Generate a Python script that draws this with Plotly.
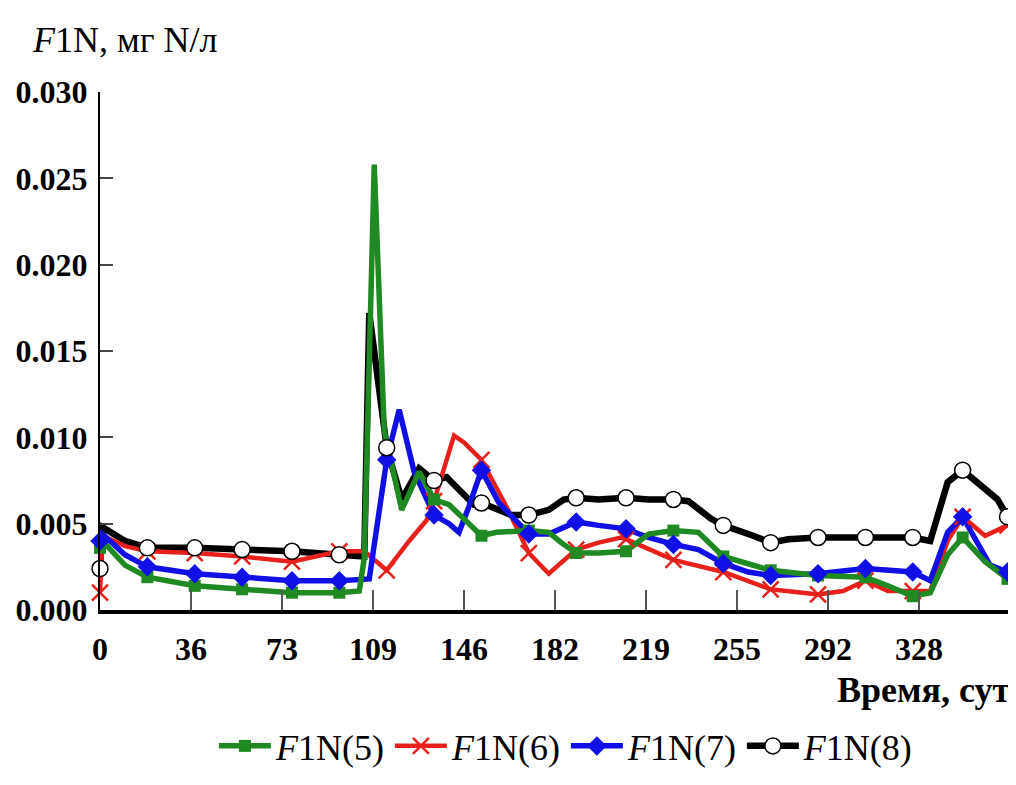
import plotly.graph_objects as go

# ---------------- data ----------------
MARKER_DAYS = [0, 19, 38, 57, 77, 96, 115, 134, 153, 172, 191, 211, 230, 250, 269, 288, 307, 326, 346, 364]

X_TICKVALS = [0, 36.5, 73, 109.5, 146, 182.5, 219, 255.5, 292, 328.5]
X_TICKTEXT = ["0", "36", "73", "109", "146", "182", "219", "255", "292", "328"]
Y_TICKVALS = [0.0, 0.005, 0.010, 0.015, 0.020, 0.025, 0.030]

days5 = [0, 1, 10, 19, 38, 57, 77, 96, 104, 106, 110, 114, 121, 128, 134, 140, 149, 153, 159, 172, 180,
         185, 191, 200, 211, 220, 230, 240, 250, 269, 288, 307, 316, 326, 333, 340, 346, 355, 364]
f1n5 = [0.0036, 0.0040, 0.0026, 0.0019, 0.0014, 0.0012, 0.0010, 0.0010, 0.0011, 0.0030, 0.0258, 0.0104,
        0.0058, 0.0080, 0.0064, 0.0061, 0.0048, 0.0043, 0.0045, 0.0046, 0.0045,
        0.0039, 0.0033, 0.0033, 0.0034, 0.0044, 0.0046, 0.0045, 0.0031, 0.0023, 0.0020, 0.0019, 0.0014,
        0.0008, 0.0010, 0.0032, 0.0042, 0.0028, 0.0018]

days6 = [0, 1, 10, 19, 38, 57, 77, 96, 106, 115, 124, 131, 134, 142, 146, 153, 163, 172, 180, 191, 200,
         209, 211, 230, 250, 269, 288, 298, 307, 316, 326, 333, 340, 346, 355, 364]
f1n6 = [0.0010, 0.0043, 0.0037, 0.0034, 0.0033, 0.0031, 0.0028, 0.0034, 0.0034, 0.0023, 0.0040, 0.0052,
        0.0063, 0.0101, 0.0097, 0.0087, 0.0060, 0.0033, 0.0021, 0.0035, 0.0039,
        0.0042, 0.0041, 0.0029, 0.0022, 0.0012, 0.0009, 0.0011, 0.0017, 0.0011, 0.0011, 0.0011, 0.0040,
        0.0054, 0.0043, 0.0049]

days7 = [0, 1, 10, 19, 38, 57, 77, 96, 106, 108, 115, 120, 126, 134, 140, 144, 148, 153, 160, 172, 180,
         191, 200, 211, 220, 230, 240, 250, 260, 269, 288, 307, 326, 333, 340, 346, 357, 364]
f1n7 = [0.0040, 0.0044, 0.0032, 0.0025, 0.0021, 0.0019, 0.0017, 0.0017, 0.0018, 0.0018, 0.0087, 0.0116,
        0.0080, 0.0055, 0.0050, 0.0045, 0.0060, 0.0081, 0.0062, 0.0044, 0.0044,
        0.0051, 0.0049, 0.0047, 0.0042, 0.0038, 0.0035, 0.0027, 0.0022, 0.0020, 0.0021, 0.0024, 0.0022,
        0.0017, 0.0045, 0.0054, 0.0026, 0.0022]

days8 = [0, 1, 10, 19, 38, 57, 77, 96, 104, 106, 108, 115, 121, 128, 134, 139, 150, 153, 165, 172, 180,
         186, 191, 200, 211, 220, 230, 236, 245, 250, 262, 269, 276, 288, 307, 326, 333, 340, 346, 352,
         360, 364]
f1n8 = [0.0024, 0.0048, 0.0040, 0.0036, 0.0036, 0.0035, 0.0034, 0.0032, 0.0031, 0.0031, 0.0172, 0.0094,
        0.0064, 0.0082, 0.0075, 0.0077, 0.0061, 0.0062, 0.0055, 0.0055, 0.0058,
        0.0064, 0.0065, 0.0064, 0.0065, 0.0064, 0.0064, 0.0063, 0.0053, 0.0049, 0.0043, 0.0039, 0.0041,
        0.0042, 0.0042, 0.0042, 0.0040, 0.0074, 0.0081, 0.0074, 0.0064, 0.0054]

SERIES = [
    ("<i>F</i>1N(8)", days8, f1n8),
    ("<i>F</i>1N(6)", days6, f1n6),
    ("<i>F</i>1N(7)", days7, f1n7),
    ("<i>F</i>1N(5)", days5, f1n5),
]

STYLE = {
    "<i>F</i>1N(5)": dict(color="#1f8a22", symbol="square", size=12, fill="#1f8a22", mline=0, width=5.5),
    "<i>F</i>1N(6)": dict(color="#e8201c", symbol="x-thin", size=16, fill="#e8201c", mline=2.5, width=4.5),
    "<i>F</i>1N(7)": dict(color="#1010e6", symbol="diamond", size=15, fill="#1010e6", mline=0, width=5.5),
    "<i>F</i>1N(8)": dict(color="#000000", symbol="circle", size=16, fill="#ffffff", mline=1.5, width=6.5),
}

LEGEND_ORDER = ["<i>F</i>1N(5)", "<i>F</i>1N(6)", "<i>F</i>1N(7)", "<i>F</i>1N(8)"]

FONT = "Liberation Serif"

fig = go.Figure()

# lines
for name, d, v in SERIES:
    st = STYLE[name]
    fig.add_trace(go.Scatter(x=d, y=v, mode="lines", line=dict(color=st["color"], width=st["width"]),
                             showlegend=False, hoverinfo="skip"))

# markers (drawn on top), black circles last
for name in ["<i>F</i>1N(6)", "<i>F</i>1N(5)", "<i>F</i>1N(7)", "<i>F</i>1N(8)"]:
    d, v = next((dd, vv) for n, dd, vv in SERIES if n == name)
    st = STYLE[name]
    md = [x for x in d if x in MARKER_DAYS]
    mv = [y for x, y in zip(d, v) if x in MARKER_DAYS]
    lc = st["color"] if name != "<i>F</i>1N(8)" else "#000000"
    fig.add_trace(go.Scatter(x=md, y=mv, mode="markers", cliponaxis=False,
                             marker=dict(symbol=st["symbol"], size=st["size"], color=st["fill"],
                                         line=dict(color=lc, width=st["mline"])),
                             showlegend=False))

# legend entries
for name in LEGEND_ORDER:
    st = STYLE[name]
    lc = st["color"] if name != "<i>F</i>1N(8)" else "#000000"
    fig.add_trace(go.Scatter(x=[None], y=[None], mode="lines+markers", name=name,
                             line=dict(color=st["color"], width=st["width"]),
                             marker=dict(symbol=st["symbol"], size=st["size"], color=st["fill"],
                                         line=dict(color=lc, width=st["mline"]))))

fig.update_layout(
    width=1008, height=777,
    margin=dict(l=92, r=6, t=84, b=175, autoexpand=False),
    paper_bgcolor="white", plot_bgcolor="white",
    font=dict(family=FONT, color="black", size=30),
    showlegend=True,
    legend=dict(orientation="h", x=0.512, xanchor="center", y=-0.2625, yanchor="middle",
                font=dict(family=FONT, size=36), itemwidth=52, tracegroupgap=0,
                bgcolor="rgba(0,0,0,0)"),
    xaxis=dict(range=[0, 365], showgrid=False, zeroline=False, automargin=False,
               showline=True, linecolor="black", linewidth=4,
               ticks="inside", ticklen=20, tickwidth=1.5, tickcolor="#555555",
               tickvals=X_TICKVALS, ticktext=X_TICKTEXT,
               tickfont=dict(family=FONT, size=32, color="black", weight="bold"),
               ticklabelstandoff=8),
    yaxis=dict(range=[0, 0.030], showgrid=False, zeroline=False, automargin=False,
               showline=True, linecolor="black", linewidth=2,
               ticks="inside", ticklen=13, tickwidth=1.5, tickcolor="#444444",
               tickvals=Y_TICKVALS, tickformat=".3f",
               tickfont=dict(family=FONT, size=32, color="black", weight="bold"),
               ticklabelstandoff=4),
    annotations=[
        dict(text="<i>F</i>1N, мг N/л", xref="paper", yref="paper", x=-0.077, y=1.10,
             xanchor="left", yanchor="middle", showarrow=False,
             font=dict(family=FONT, size=36, color="black")),
        dict(text="<b>Время, сут</b>", xref="paper", yref="paper", x=1.003, y=-0.154,
             xanchor="right", yanchor="middle", showarrow=False,
             font=dict(family=FONT, size=36, color="black")),
    ],
)

fig.write_html("out.html")
